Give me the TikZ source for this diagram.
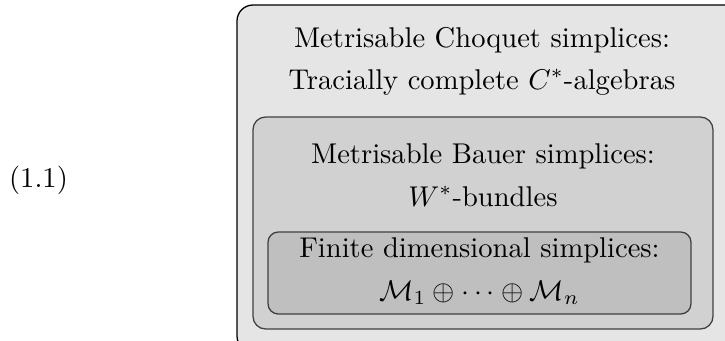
\documentclass[tikz,border=0pt]{standalone}
\begin{document}
\begin{tikzpicture}[x=0.35pt,y=-0.35pt,
  outerbox/.style={draw=black,line width=0.45pt,fill=black!10,rounded corners=5.6pt},
  midbox/.style={draw=black!75,line width=0.45pt,fill=black!18,rounded corners=4.4pt},
  innerbox/.style={draw=black!75,line width=0.45pt,fill=black!25,rounded corners=3.6pt},
  txt/.style={anchor=base,inner sep=0pt,outer sep=0pt}]
\useasboundingbox (0,0) rectangle (725,340);
\draw[outerbox] (237,5) rectangle (745,352);
\draw[midbox] (253,117) rectangle (713,329);
\draw[innerbox] (268,232) rectangle (691,314);
\node[txt] (t1) at (482,47) {Metrisable Choquet simplices:};
\node[txt] (t2) at (482,89) {Tracially complete $C^*$-algebras};
\node[txt] (t3) at (483,163) {Metrisable Bauer simplices:};
\node[txt] (t4) at (483,206) {$W^*$-bundles};
\node[txt] (t5) at (479.5,257) {Finite dimensional simplices:};
\node[txt] (t6) at (479.5,300) {$\mathcal{M}_1\oplus\cdots\oplus\mathcal{M}_n$};
\node[txt] (eq) at (38.5,187) {(1.1)};
\end{tikzpicture}
\end{document}
